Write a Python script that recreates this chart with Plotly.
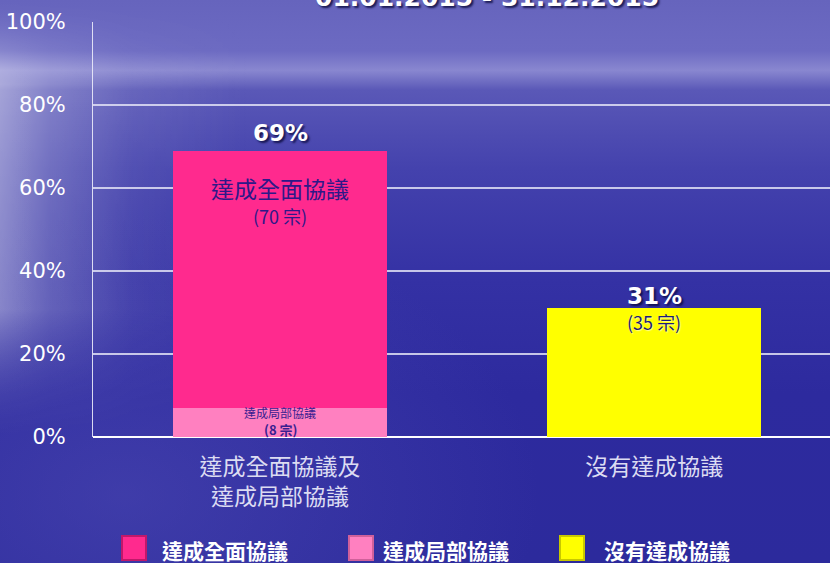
import base64
import plotly.graph_objects as go

# ---- data ----
categories = ["達成全面協議及<br>達成局部協議", "沒有達成協議"]
series_names = ["達成全面協議", "達成局部協議", "沒有達成協議"]
full_pct = [62, None]       # 達成全面協議
partial_pct = [7, None]     # 達成局部協議
none_pct = [None, 31]       # 沒有達成協議
total_pct = [69, 31]
full_cases = [70, None]
partial_cases = [8, None]
none_cases = [None, 35]
y_ticks = [0, 20, 40, 60, 80, 100]
period = "01.01.2015 - 31.12.2015"

# ---- page geometry (px) ----
W, H = 830, 563
L, R, T, B = 93, 0, 22, 126
PW, PH = W - L - R, H - T - B

COL_FULL = "#ff2a8e"
COL_PART = "#ff80c0"
COL_NONE = "#ffff00"
CJK = "Noto Sans CJK TC"
LATIN = "DejaVu Sans"


def px_x(px):
    return (px - L) / PW


def px_y(py):
    return (H - B - py) / PH


# sea / sky background as an inline svg
svg = f"""<svg xmlns='http://www.w3.org/2000/svg' width='{W}' height='{H}'>
<defs>
<linearGradient id='v' x1='0' y1='0' x2='0' y2='1'>
<stop offset='0' stop-color='#6664bd'/>
<stop offset='0.09' stop-color='#6c6ac2'/>
<stop offset='0.125' stop-color='#8987d0'/>
<stop offset='0.16' stop-color='#5a58b7'/>
<stop offset='0.3' stop-color='#4442ad'/>
<stop offset='0.5' stop-color='#3431a4'/>
<stop offset='0.7' stop-color='#2d2a9e'/>
<stop offset='1' stop-color='#2c2a9c'/>
</linearGradient>
<linearGradient id='g' x1='0' y1='0' x2='1' y2='0'>
<stop offset='0' stop-color='#ffffff' stop-opacity='0.45'/>
<stop offset='0.06' stop-color='#ffffff' stop-opacity='0.25'/>
<stop offset='0.16' stop-color='#ffffff' stop-opacity='0.08'/>
<stop offset='0.3' stop-color='#ffffff' stop-opacity='0'/>
</linearGradient>
<linearGradient id='m' x1='0' y1='0' x2='0' y2='1'>
<stop offset='0' stop-color='#000' stop-opacity='0.2'/>
<stop offset='0.15' stop-color='#fff' stop-opacity='1'/>
<stop offset='0.55' stop-color='#fff' stop-opacity='0.9'/>
<stop offset='0.8' stop-color='#000' stop-opacity='0'/>
</linearGradient>
<mask id='mk'><rect width='{W}' height='{H}' fill='url(#m)'/></mask>
<radialGradient id='b' cx='0.15' cy='0.88' r='0.5'>
<stop offset='0' stop-color='#5552b8' stop-opacity='0.45'/>
<stop offset='1' stop-color='#5552b8' stop-opacity='0'/>
</radialGradient>
</defs>
<rect width='{W}' height='{H}' fill='url(#v)'/>
<rect width='{W}' height='{H}' fill='url(#b)'/>
<rect width='{W}' height='{H}' fill='url(#g)' mask='url(#mk)'/>
</svg>"""
bg_src = "data:image/svg+xml;base64," + base64.b64encode(svg.encode()).decode()

fig = go.Figure()
x_pos = list(range(len(categories)))

fig.add_trace(go.Bar(x=x_pos, y=partial_pct, name=series_names[1],
                     marker=dict(color=COL_PART, line=dict(width=0)), width=0.572))
fig.add_trace(go.Bar(x=x_pos, y=full_pct, name=series_names[0],
                     marker=dict(color=COL_FULL, line=dict(width=0)), width=0.572))
fig.add_trace(go.Bar(x=x_pos, y=none_pct, name=series_names[2],
                     marker=dict(color=COL_NONE, line=dict(width=0)), width=0.572))

ann = []
# totals above the bars
for i, tot in enumerate(total_pct):
    ann.append(dict(x=i, y=tot, xref="x", yref="y", text=f"{tot}%",
                    showarrow=False, yshift=[18, 12][i],
                    font=dict(family=LATIN, size=23, color="white", weight="bold",
                              shadow="2px 2px 2px rgba(10,10,60,0.8)")))
# labels inside segments
for i in range(len(categories)):
    if full_cases[i]:
        top = (partial_pct[i] or 0) + full_pct[i]
        ann.append(dict(x=i, y=top, xref="x", yref="y", text=series_names[0],
                        showarrow=False, yshift=-37,
                        font=dict(family=CJK, size=23, color="#2e1888")))
        ann.append(dict(x=i, y=top, xref="x", yref="y", text=f"({full_cases[i]} 宗)",
                        showarrow=False, yshift=-65,
                        font=dict(family=CJK, size=18, color="#2e1888")))
    if partial_cases[i]:
        ann.append(dict(x=i, y=partial_pct[i], xref="x", yref="y", text=series_names[1],
                        showarrow=False, yshift=-5,
                        font=dict(family=CJK, size=12, color="#3a2090")))
        ann.append(dict(x=i, y=partial_pct[i], xref="x", yref="y",
                        text=f"<b>({partial_cases[i]} 宗)</b>",
                        showarrow=False, yshift=-22,
                        font=dict(family=CJK, size=13, color="#3a2090")))
    if none_cases[i]:
        ann.append(dict(x=i, y=none_pct[i], xref="x", yref="y",
                        text=f"({none_cases[i]} 宗)",
                        showarrow=False, yshift=-14,
                        font=dict(family=CJK, size=18, color="#1c1c78",
                                  shadow="1px 1px 1px rgba(255,255,255,0.6)")))

# cropped period title at the very top
ann.append(dict(x=px_x(487), y=px_y(-2), xref="paper", yref="paper", text=period,
                showarrow=False, xanchor="center", yanchor="middle",
                font=dict(family=LATIN, size=25, color="white", weight="bold",
                          shadow="2px 2px 2px rgba(10,10,60,0.8)")))

# hand-drawn legend
legend_sq = [122, 349, 560]
legend_tx = [160, 381, 602]
legend_col = [COL_FULL, COL_PART, COL_NONE]
legend_edge = ["#c0186a", "#d0609a", "#c8c800"]
shapes = []
for k, name in enumerate(series_names):
    shapes.append(dict(type="rect", xref="paper", yref="paper",
                       x0=px_x(legend_sq[k]), x1=px_x(legend_sq[k] + 24),
                       y0=px_y(560), y1=px_y(536),
                       fillcolor=legend_col[k], line=dict(color=legend_edge[k], width=2)))
    ann.append(dict(x=px_x(legend_tx[k]), y=px_y(550), xref="paper", yref="paper",
                    text=f"<b>{name}</b>", showarrow=False, xanchor="left", yanchor="middle",
                    font=dict(family=CJK, size=21, color="white")))

fig.update_layout(
    width=W, height=H,
    margin=dict(l=L, r=R, t=T, b=B),
    barmode="stack",
    bargap=0,
    showlegend=False,
    paper_bgcolor="#3532a5",
    plot_bgcolor="rgba(0,0,0,0)",
    images=[dict(source=bg_src, xref="paper", yref="paper",
                 x=px_x(0), y=px_y(0), sizex=W / PW, sizey=H / PH,
                 xanchor="left", yanchor="top", sizing="stretch", layer="below")],
    xaxis=dict(range=[-0.5, 1.47], tickvals=x_pos, ticktext=categories,
               showgrid=False, zeroline=False, showline=False, ticks="",
               ticklabelstandoff=14,
               tickfont=dict(family=CJK, size=23, color="#dcdcf2")),
    yaxis=dict(range=[0, 100], tickvals=y_ticks, ticktext=[f"{v}%" for v in y_ticks],
               showgrid=True, gridcolor="rgba(225,225,245,0.85)", gridwidth=1.5,
               zeroline=True, zerolinecolor="white", zerolinewidth=2,
               showline=True, linecolor="rgba(235,235,250,0.9)", linewidth=1,
               ticks="", ticklabelstandoff=22,
               tickfont=dict(family=LATIN, size=21, color="white")),
    annotations=ann,
    shapes=shapes,
)

fig.write_html("out.html", config={"displayModeBar": False},
               post_script="document.body.style.margin='0';document.body.style.overflow='hidden';")
